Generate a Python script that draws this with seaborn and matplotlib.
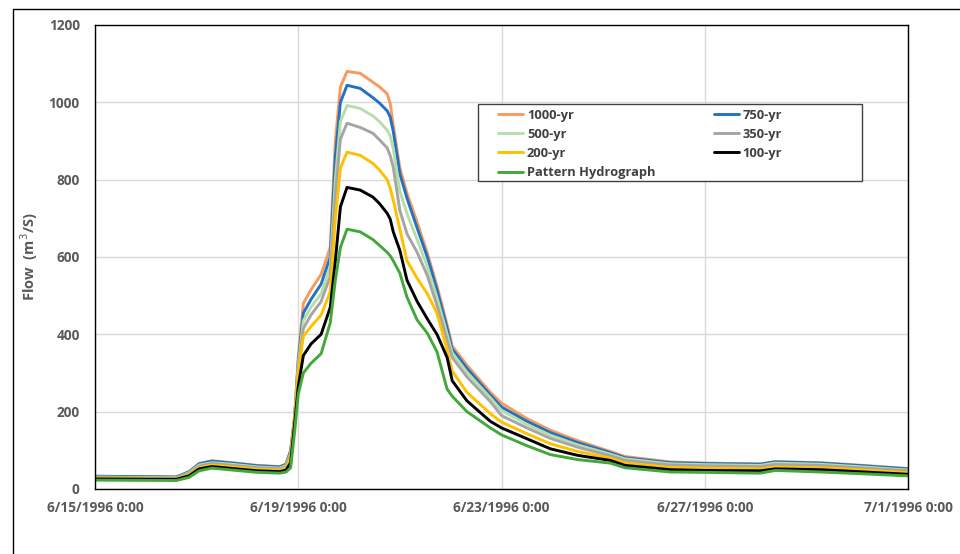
import numpy as np
import pandas as pd
import matplotlib
matplotlib.use("Agg")
import matplotlib.pyplot as plt
import seaborn as sns
from matplotlib.patches import Rectangle

# ---- data (days after 6/15/1996 0:00) ----
days = [0, 1.6, 1.85, 2.05, 2.3, 2.7, 3.2, 3.64, 3.76, 3.85, 3.93, 4.0, 4.1, 4.25,
        4.45, 4.63, 4.73, 4.83, 4.96, 5.22, 5.47, 5.6, 5.75, 5.81, 5.87, 6.0, 6.14,
        6.34, 6.54, 6.73, 6.93, 7.03, 7.32, 7.78, 8.0, 8.5, 8.96, 9.5, 10.14, 10.43,
        11.32, 12.0, 13.09, 13.39, 14.27, 15.0, 16.0]

flow_1000 = [33, 31, 45, 66, 73, 68, 61, 58, 65, 100, 190, 340, 480, 515,
             555, 625, 900, 1040, 1080, 1075, 1052, 1040, 1022, 997, 940, 830, 765,
             690, 610, 525, 425, 370, 320, 250, 222, 182, 152, 125, 97, 84,
             70, 67, 65, 71, 68, 62, 53]
flow_750 = [33, 31, 44, 65, 72, 67, 60, 57, 64, 98, 188, 330, 455, 490,
            530, 600, 860, 1000, 1044, 1036, 1012, 998, 978, 962, 925, 815, 752,
            675, 600, 515, 415, 362, 312, 243, 212, 175, 146, 120, 94, 81,
            68, 66, 64, 70, 67, 61, 52]
flow_500 = [31, 29, 42, 62, 68, 64, 57, 54, 61, 92, 185, 320, 435, 470,
            505, 575, 800, 950, 992, 984, 965, 950, 928, 913, 880, 770, 712,
            645, 575, 495, 400, 352, 302, 236, 203, 167, 139, 114, 90, 78,
            65, 63, 61, 67, 64, 58, 49]
flow_350 = [30, 28, 40, 59, 66, 61, 55, 52, 58, 88, 183, 310, 415, 450,
            485, 550, 760, 905, 946, 935, 920, 903, 882, 862, 832, 720, 660,
            612, 552, 475, 385, 340, 290, 226, 190, 158, 131, 108, 86, 74,
            62, 60, 58, 63, 61, 55, 47]
flow_200 = [28, 26, 37, 55, 62, 57, 51, 49, 54, 80, 180, 300, 395, 420,
            450, 510, 700, 830, 871, 863, 842, 825, 800, 778, 747, 672, 590,
            545, 505, 455, 360, 305, 250, 195, 173, 143, 117, 97, 80, 67,
            56, 54, 52, 57, 55, 50, 42]
flow_100 = [26, 25, 34, 52, 58, 53, 47, 45, 49, 68, 170, 265, 345, 375,
            400, 470, 590, 730, 780, 773, 755, 738, 713, 698, 665, 617, 540,
            485, 440, 400, 340, 280, 228, 175, 158, 130, 104, 87, 74, 61,
            50, 48, 47, 52, 50, 45, 38]
flow_pattern = [23, 22, 30, 47, 54, 49, 43, 41, 44, 55, 150, 245, 300, 325,
                350, 430, 540, 625, 672, 665, 645, 630, 612, 603, 590, 558, 496,
                437, 403, 355, 258, 240, 200, 158, 140, 112, 89, 76, 67, 55,
                44, 43, 41, 48, 44, 40, 34]

series_names = ["1000-yr", "750-yr", "500-yr", "350-yr", "200-yr", "100-yr",
                "Pattern Hydrograph"]
series_values = [flow_1000, flow_750, flow_500, flow_350, flow_200, flow_100,
                 flow_pattern]
series_colors = ["#F79A5E", "#2272C3", "#B7DEA8", "#A5A5A5", "#FFC000", "#000000",
                 "#43A83A"]

tick_dates = ["1996-06-15", "1996-06-19", "1996-06-23", "1996-06-27", "1996-07-01"]
tick_labels = ["6/15/1996 0:00", "6/19/1996 0:00", "6/23/1996 0:00",
               "6/27/1996 0:00", "7/1/1996 0:00"]
y_ticks = [0, 200, 400, 600, 800, 1000, 1200]

# ---- build table ----
start = pd.Timestamp("1996-06-15")
times = start + pd.to_timedelta(days, unit="D")
frames = []
for name, vals in zip(series_names, series_values):
    frames.append(pd.DataFrame({"time": times, "flow": vals, "series": name}))
df = pd.concat(frames, ignore_index=True)

sns.set_theme(style="white")
plt.rcParams["font.family"] = ["Open Sans", "DejaVu Sans"]

fig = plt.figure(figsize=(9.6, 5.54), dpi=100)
ax = fig.add_axes([95 / 960, 1 - 489 / 554, (908 - 95) / 960, (489 - 25) / 554])

palette = dict(zip(series_names, series_colors))
handles = {}
for name in series_names:
    sub = df[df["series"] == name]
    sns.lineplot(data=sub, x="time", y="flow", color=palette[name], linewidth=2.1,
                 ax=ax, label=name, legend=False)
    handles[name] = ax.lines[-1]

ax.set_xlim(pd.Timestamp(tick_dates[0]), pd.Timestamp(tick_dates[-1]))
ax.set_ylim(0, 1200)
ax.set_xticks([pd.Timestamp(d) for d in tick_dates])
ax.set_xticklabels(tick_labels)
ax.set_yticks(y_ticks)
ax.set_yticklabels([str(v) for v in y_ticks])
ax.grid(True, color="#D9D9D9", linewidth=1.0)
ax.set_axisbelow(True)
for s in ax.spines.values():
    s.set_visible(True)
    s.set_color("#000000")
    s.set_linewidth(1.0)
ax.tick_params(axis="both", length=0, labelsize=9.8, colors="#595959")
ax.tick_params(axis="y", pad=11)
ax.tick_params(axis="x", pad=9)
for lab in ax.get_xticklabels() + ax.get_yticklabels():
    lab.set_fontweight("bold")
ax.set_xlabel("")
ax.set_ylabel("Flow  (m$^3$/S)", fontsize=10.5, fontweight="bold", color="#595959",
              labelpad=6)

# legend frame (Excel-style wide box)
ax.add_patch(Rectangle(((478 - 95) / 813, (489 - 181) / 464), (862 - 478) / 813,
                       (181 - 104) / 464, transform=ax.transAxes, facecolor="white",
                       edgecolor="#404040", linewidth=1.0, zorder=4))

order = ["1000-yr", "500-yr", "200-yr", "Pattern Hydrograph", "750-yr", "350-yr",
         "100-yr"]
leg = ax.legend([handles[n] for n in order], order, ncol=2, loc="upper left",
                bbox_to_anchor=((494 - 95) / 813, (489 - 105) / 464),
                borderaxespad=0, frameon=False, handlelength=1.95,
                handletextpad=0.3, columnspacing=4.5, labelspacing=0.47,
                borderpad=0.3, prop={"weight": "bold", "size": 9.3})
leg.set_zorder(5)
for t in leg.get_texts():
    t.set_color("#404040")

# outer chart border
fig.patches.append(Rectangle((13 / 960, -0.1), 1.2, 1 - 9 / 554 + 0.1,
                             transform=fig.transFigure, fill=False,
                             edgecolor="#000000", linewidth=1.0))

fig.savefig("out.png", dpi=100)
